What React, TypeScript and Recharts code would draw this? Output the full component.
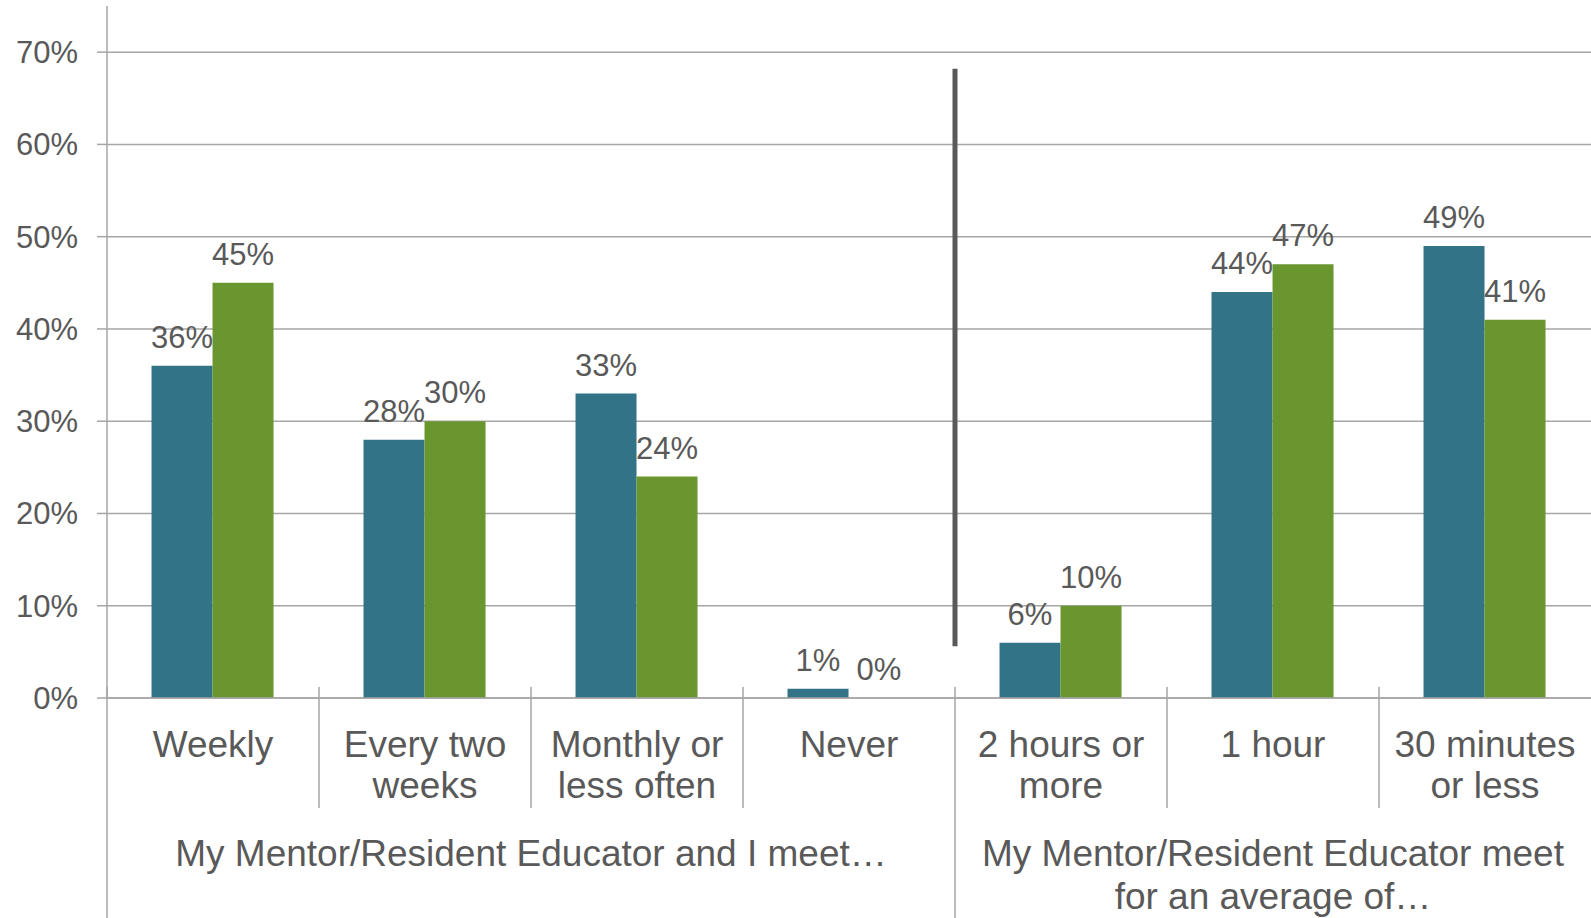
import { BarChart, Bar, XAxis, YAxis, CartesianGrid, LabelList, ReferenceLine } from 'recharts'

const categoryLines = [
  ['Weekly'],
  ['Every two', 'weeks'],
  ['Monthly or', 'less often'],
  ['Never'],
  ['2 hours or', 'more'],
  ['1 hour'],
  ['30 minutes', 'or less'],
]
const categories = categoryLines.map(l => l.join(' '))

const seriesA = [0.36, 0.28, 0.33, 0.01, 0.06, 0.44, 0.49]
const seriesB = [0.45, 0.30, 0.24, 0.0, 0.10, 0.47, 0.41]

const groupLines = [
  ['My Mentor/Resident Educator and I meet…'],
  ['My Mentor/Resident Educator meet', 'for an average of…'],
]
const groupSpans = [4, 3]

const yTicks = [0, 0.1, 0.2, 0.3, 0.4, 0.5, 0.6, 0.7]
const yMax = 0.75

const data = categories.map((c, i) => ({ category: c, a: seriesA[i], b: seriesB[i] }))

// first index of each group
const groupStarts = groupSpans.map((_, g) => groupSpans.slice(0, g).reduce((s, n) => s + n, 0))

const FONT = '"Liberation Sans", Arial, sans-serif'
const TEXT = '#595959'
const GRID = '#a6a6a6'

const pct = (v: number) => `${Math.round(v * 100)}%`

const CategoryTick = (props: any) => {
  const { x, y, payload, index } = props
  const half = payload?.offset ?? 106
  const left = x - half
  const g = groupStarts.indexOf(index)
  const lines = categoryLines[index] ?? [payload.value]
  return (
    <g>
      <line x1={left} x2={left} y1={y - 11} y2={g >= 0 ? y + 222 : y + 110} stroke={GRID} strokeWidth={1.5} />
      {lines.map((t, i) => (
        <text key={i} x={x} y={y + 59 + i * 41} textAnchor="middle" fill={TEXT} fontSize={37} fontFamily={FONT}>{t}</text>
      ))}
      {g >= 0 && groupLines[g].map((t, i) => (
        <text key={'g' + i} x={left + groupSpans[g] * half} y={y + 168 + i * 43} textAnchor="middle" fill={TEXT} fontSize={37} fontFamily={FONT}>{t}</text>
      ))}
    </g>
  )
}

// grid only on the labelled ticks, not on the top edge of the plot
const gridRows = ({ offset }: any) =>
  yTicks.map(t => offset.top + offset.height * (1 - t / yMax))

export default function App() {
  return (
    <div style={{ position: 'absolute', left: 0, top: 0, width: 1591, height: 918, background: '#fff' }}>
      <BarChart
        width={1591}
        height={918}
        data={data}
        margin={{ top: 6, right: 0, bottom: 0, left: 0 }}
        barCategoryGap="21%"
        barGap={0}
        style={{ fontFamily: FONT }}
      >
        <CartesianGrid vertical={false} stroke={GRID} strokeWidth={1.5} horizontalCoordinatesGenerator={gridRows} />
        <XAxis
          dataKey="category"
          height={220}
          interval={0}
          tickLine={false}
          tickSize={0}
          tickMargin={0}
          axisLine={{ stroke: GRID, strokeWidth: 1.5 }}
          tick={<CategoryTick />}
        />
        <YAxis
          width={107}
          domain={[0, yMax]}
          ticks={yTicks}
          tickFormatter={pct}
          tickSize={10}
          tickMargin={19}
          tickLine={{ stroke: GRID, strokeWidth: 1.5 }}
          axisLine={{ stroke: GRID, strokeWidth: 1.5 }}
          tick={{ fill: TEXT, fontSize: 31, fontFamily: FONT }}
        />
        <Bar dataKey="a" name="Series 1" fill="#327387" minPointSize={0.01} isAnimationActive={false}>
          <LabelList dataKey="a" position="top" offset={18} formatter={(v: any) => pct(Number(v))} fill={TEXT} fontSize={31} fontFamily={FONT} />
        </Bar>
        <Bar dataKey="b" name="Series 2" fill="#6a962f" minPointSize={0.01} isAnimationActive={false}>
          <LabelList dataKey="b" position="top" offset={18} formatter={(v: any) => pct(Number(v))} fill={TEXT} fontSize={31} fontFamily={FONT} />
        </Bar>
        <ReferenceLine
          position="start"
          segment={[{ x: categories[4], y: 0.682 }, { x: categories[4], y: 0.056 }]}
          stroke="#595959"
          strokeWidth={5}
          ifOverflow="visible"
        />
      </BarChart>
    </div>
  )
}
